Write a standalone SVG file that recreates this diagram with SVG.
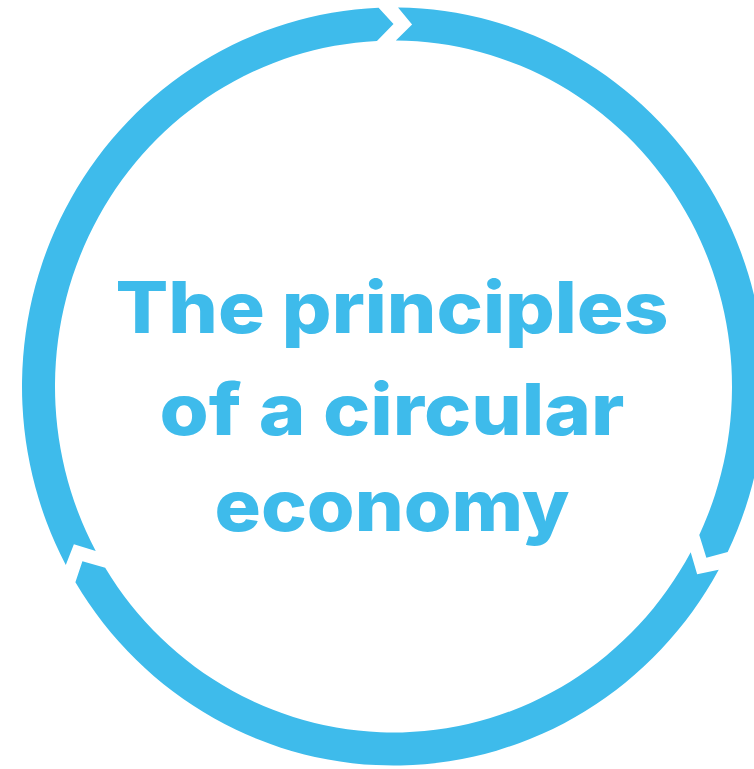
<svg xmlns="http://www.w3.org/2000/svg" width="754" height="769" viewBox="0 0 754 769">
  <style>
    .seg { fill: #3ebbeb; }
    .title { fill: #3ebbeb; font-family: "Inter", "Liberation Sans", sans-serif; font-weight: 800; font-size: 71px; text-anchor: middle; }
  </style>
  <rect width="754" height="769" fill="#ffffff"/>
  <g id="connectors">
    <path id="arc-top-right" class="seg" d="M398.04,7.53 A371.5,379 0 0 1 727.69,552.05 L706.36,557.80 L699.28,534.91 A338.5,346 0 0 0 395.86,40.51 L412.08,24.50 Z"/>
    <path id="arc-bottom" class="seg" d="M718.73,569.66 A371.5,379 0 0 1 75.40,582.27 L82.41,561.13 L105.19,567.80 A338.5,346 0 0 0 690.70,552.13 L697.15,574.29 Z"/>
    <path id="arc-left-top" class="seg" d="M65.79,565.01 A371.5,379 0 0 1 378.59,7.81 L393.5,24.0 L376.96,40.91 A338.5,346 0 0 0 95.74,551.07 L73.89,544.27 Z"/>
  </g>
  <g id="title">
    <text class="title" x="392" y="333" textLength="553" lengthAdjust="spacingAndGlyphs">The principles</text>
    <text class="title" x="392" y="435" textLength="465" lengthAdjust="spacingAndGlyphs">of a circular</text>
    <text class="title" x="392" y="531" textLength="355" lengthAdjust="spacingAndGlyphs">economy</text>
  </g>
</svg>
